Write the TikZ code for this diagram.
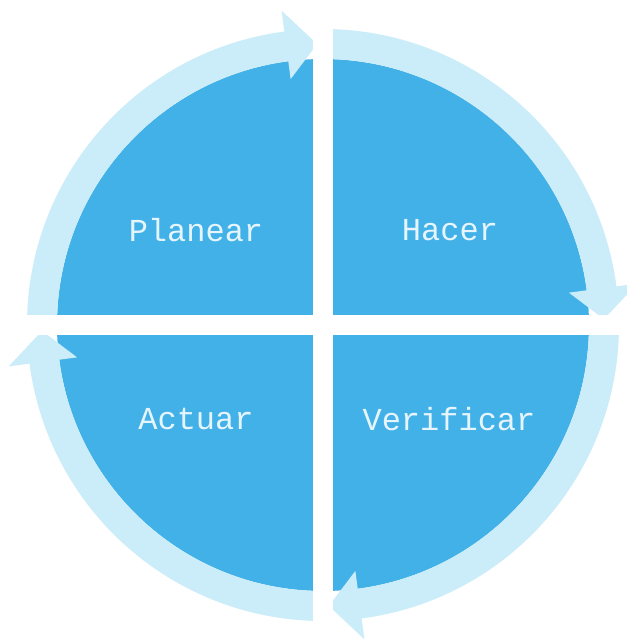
\documentclass[tikz,border=0pt]{standalone}
\usepackage{fontspec}
\newfontfamily\quadmono{Liberation Mono}
\definecolor{quadblue}{RGB}{66,177,232}
\definecolor{ringblue}{RGB}{202,237,249}
\definecolor{lbltext}{RGB}{230,245,252}
\begin{document}
\begin{tikzpicture}[x=1pt,y=1pt,
  quadlabel/.style={text=lbltext,font=\quadmono\fontsize{32}{32}\selectfont,inner sep=0pt},
  ringseg/.style={fill=ringblue}]
\useasboundingbox (-323,-316) rectangle (304,325);
\fill[white] (-323,-316) rectangle (304,325);
% dark disk
\fill[quadblue] (0,0) circle (266);
% circular arrows
\foreach \s in {180,90,0,-90}{
  \fill[ringseg] (\s:296) arc[start angle=\s, end angle={\s-82.5}, radius=296]
    -- ({\s-82.5}:317) -- ({\s-88.8}:281) -- ({\s-82.5}:248) -- ({\s-82.5}:266)
    arc[start angle={\s-82.5}, end angle=\s, radius=266] -- cycle;
}
% white cross gaps
\fill[white] (-10,-316) rectangle (10,325);
\fill[white] (-323,-10) rectangle (304,10);
% labels
\node[quadlabel] (plan) at (-127,95) {Planear};
\node[quadlabel] (hacer) at (127,95) {Hacer};
\node[quadlabel] (actuar) at (-127,-94) {Actuar};
\node[quadlabel] (verif) at (126,-94) {Verificar};
\end{tikzpicture}
\end{document}
